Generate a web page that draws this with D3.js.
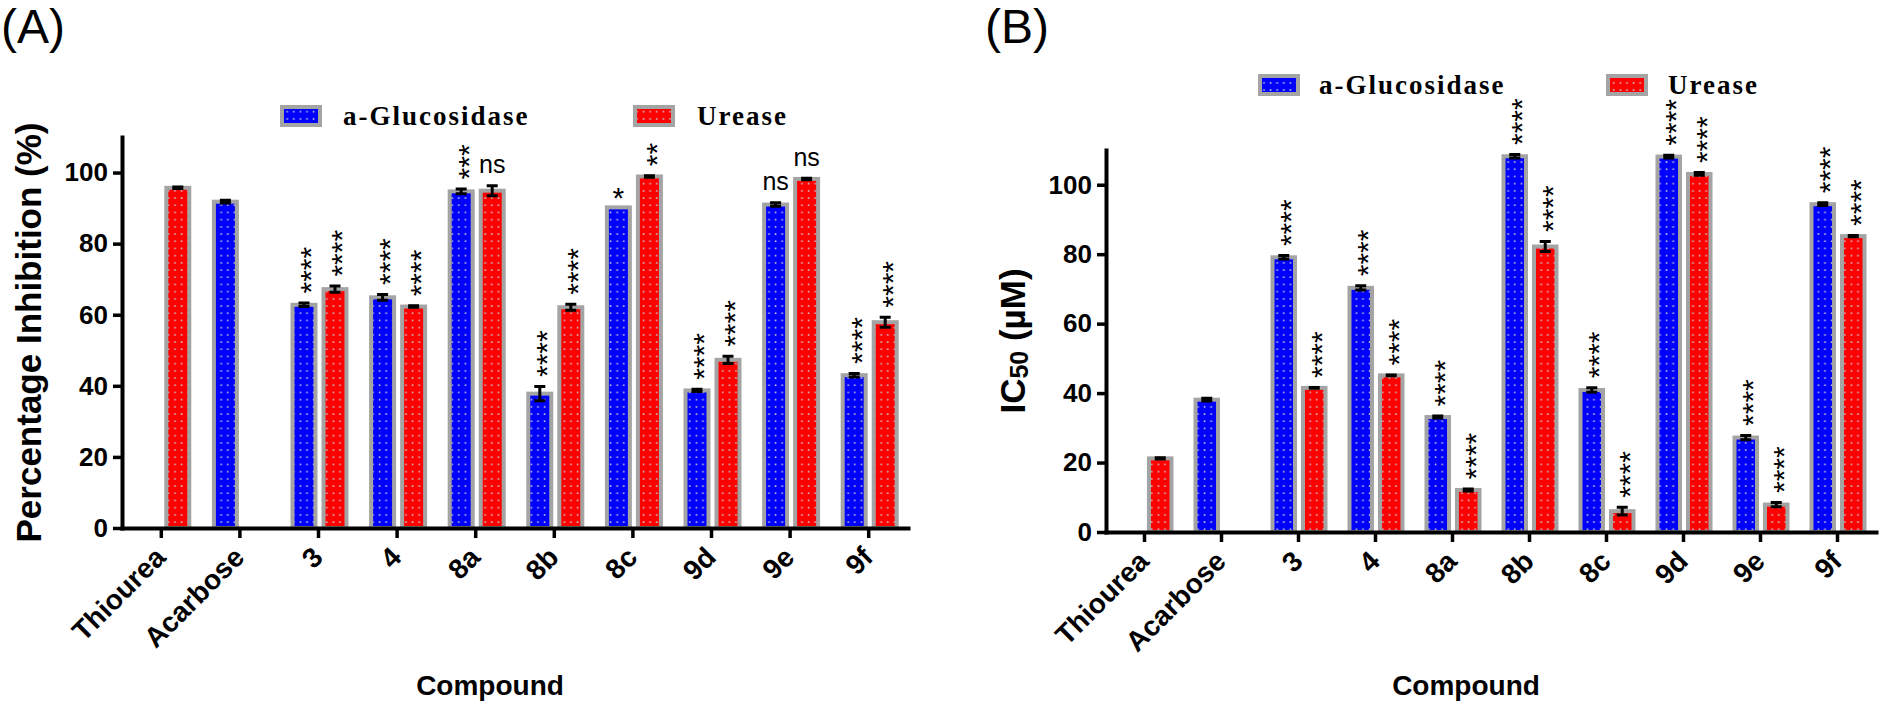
<!DOCTYPE html>
<html>
<head>
<meta charset="utf-8">
<script src="https://cdn.jsdelivr.net/npm/d3@7"></script>
<style>
    body { margin: 0; background: #fff; }
    svg { display: block; }
</style>
</head>
<body>
<script>
// Compounds on the x axis (same for both panels)
const compounds = ["Thiourea", "Acarbose", "3", "4", "8a", "8b", "8c", "9d", "9e", "9f"];
const seriesNames = ["a-Glucosidase", "Urease"];
const yTicks = [0, 20, 40, 60, 80, 100];

// Panel A: percentage inhibition (%)
const inhibGlucosidase = [null, 91.8, 62.8, 64.9, 94.7, 37.8, 90.2, 38.7, 91.0, 43.0];
const inhibGlucosidaseErr = [null, 0.4, 0.5, 0.8, 0.7, 2.0, 0, 0.3, 0.5, 0.5];
const inhibUrease = [95.7, null, 67.2, 62.3, 94.9, 62.1, 98.9, 47.3, 98.2, 57.9];
const inhibUreaseErr = [0.2, null, 0.85, 0.2, 1.4, 0.85, 0.2, 1.0, 0.2, 1.4];
const inhibGlucosidaseSig = ["", "", "****", "****", "***", "****", "*", "****", "ns", "****"];
const inhibUreaseSig = ["", "", "****", "****", "ns", "****", "**", "****", "ns", "****"];

// Panel B: IC50 (µM)
const icGlucosidase = [null, 38.1, 79.1, 70.3, 33.1, 108.2, 40.9, 108.1, 27.2, 94.4];
const icGlucosidaseErr = [null, 0.4, 0.5, 0.6, 0.3, 0.5, 0.65, 0.4, 0.6, 0.4];
const icUrease = [21.2, null, 41.5, 45.1, 12.1, 82.2, 6.0, 103.1, 7.9, 85.2];
const icUreaseErr = [0.2, null, 0.1, 0.1, 0.3, 1.45, 1.1, 0.4, 0.6, 0.2];
const icGlucosidaseSig = ["", "", "****", "****", "****", "****", "****", "****", "****", "****"];
const icUreaseSig = ["", "", "****", "****", "****", "****", "****", "****", "****", "****"];

const width = 1879;
const height = 702;
const sans = "'Liberation Sans', Arial, sans-serif";
const serif = "'Liberation Serif', 'Times New Roman', serif";
const fills = ["url(#dots-blue)", "url(#dots-red)"];

// Layout of each panel
const panels = [
    {
        tag: "(A)", tagX: 1,
        left: 122, right: 908, top: 137, bottom: 528,
        sub: [-28, 30],
        title: "Percentage Inhibition (%)",
        legendX: [280, 343, 633, 697], legendY: 105,
        values: [inhibGlucosidase, inhibUrease],
        errors: [inhibGlucosidaseErr, inhibUreaseErr],
        sigs: [inhibGlucosidaseSig, inhibUreaseSig]
    },
    {
        tag: "(B)", tagX: 985,
        left: 1106, right: 1876, top: 150, bottom: 532,
        sub: [-28, 29],
        title: null,
        legendX: [1258, 1319, 1606, 1668], legendY: 74,
        values: [icGlucosidase, icUrease],
        errors: [icGlucosidaseErr, icUreaseErr],
        sigs: [icGlucosidaseSig, icUreaseSig]
    }
];

const svg = d3.select("body").append("svg")
    .attr("width", width)
    .attr("height", height)
    .attr("viewBox", [0, 0, width, height]);

svg.append("rect").attr("width", width).attr("height", height).attr("fill", "#fff");

// dotted bar fills
const defs = svg.append("defs");
[["dots-blue", "#0000ff"], ["dots-red", "#ff0000"]].forEach(([id, c]) => {
    const p = defs.append("pattern")
        .attr("id", id)
        .attr("patternUnits", "userSpaceOnUse")
        .attr("width", 6.6)
        .attr("height", 7.2);
    p.append("rect").attr("width", 6.6).attr("height", 7.2).attr("fill", c);
    p.append("rect").attr("x", 2.6).attr("y", 2.9).attr("width", 1.6).attr("height", 1.6)
        .attr("fill", "#c4c4cc");
});

function drawPanel(cfg) {
    const g = svg.append("g");

    const x = d3.scaleBand().domain(compounds).range([cfg.left, cfg.right]);
    const xSub = d3.scaleBand().domain([0, 1]).range(cfg.sub).paddingInner(0.13);
    const y = d3.scaleLinear().domain([0, 110]).range([cfg.bottom, cfg.top]);

    const rows = [];
    cfg.values.forEach((vals, s) => vals.forEach((v, i) => {
        if (v == null) return;
        rows.push({
            s, name: compounds[i], value: v,
            err: cfg.errors[s][i], sig: cfg.sigs[s][i],
            cx: x(compounds[i]) + x.bandwidth() / 2 + xSub(s) + xSub.bandwidth() / 2
        });
    }));

    // bars
    g.append("g")
        .selectAll("rect")
        .data(rows)
        .join("rect")
        .attr("x", d => d.cx - xSub.bandwidth() / 2 + 2)
        .attr("width", xSub.bandwidth() - 4)
        .attr("y", d => y(d.value))
        .attr("height", d => y(0) - y(d.value))
        .attr("fill", d => fills[d.s])
        .attr("stroke", "#a4a4a4")
        .attr("stroke-width", 4);

    // error bars
    g.append("g")
        .attr("stroke", "#000")
        .attr("stroke-width", 3)
        .selectAll("path")
        .data(rows.filter(d => d.err > 0))
        .join("path")
        .attr("d", d => {
            const hi = y(d.value + d.err), lo = y(d.value - d.err);
            return `M${d.cx - 5.5},${hi}H${d.cx + 5.5}M${d.cx},${hi}V${lo}M${d.cx - 5.5},${lo}H${d.cx + 5.5}`;
        });

    // significance marks
    const top = d => d.err > 0 ? y(d.value + d.err) - 1.5 : y(d.value) - 2;
    g.append("g")
        .style("font-family", sans)
        .selectAll("text")
        .data(rows.filter(d => d.sig))
        .join("text")
        .each(function (d) {
            const t = d3.select(this).text(d.sig);
            if (d.sig === "ns") {
                t.attr("x", d.cx).attr("y", top(d) - 11)
                    .attr("text-anchor", "middle").attr("font-size", 25);
            } else if (d.sig === "*") {
                t.attr("x", d.cx).attr("y", top(d) + 3)
                    .attr("text-anchor", "middle").attr("font-size", 30);
            } else {
                t.attr("transform", `translate(${d.cx},${top(d) - 8}) rotate(-90)`)
                    .attr("dy", "0.58em").attr("font-size", 30);
            }
        });

    // axes
    const yAxis = g.append("g")
        .attr("transform", `translate(${cfg.left},0)`)
        .call(d3.axisLeft(y).tickValues(yTicks).tickSize(9).tickSizeOuter(0).tickPadding(5));
    const xAxis = g.append("g")
        .attr("transform", `translate(0,${cfg.bottom})`)
        .call(d3.axisBottom(x).tickSize(10).tickSizeOuter(0).tickFormat(""));

    [yAxis, xAxis].forEach(a => {
        a.select(".domain").attr("stroke-width", 4).attr("stroke-linecap", "square");
        a.selectAll(".tick line").attr("stroke-width", 3.5);
    });
    yAxis.selectAll("text")
        .attr("font-family", sans)
        .attr("font-weight", "bold")
        .attr("font-size", 26)
        .attr("fill", "#000");

    // rotated compound names
    g.append("g")
        .attr("font-family", sans)
        .attr("font-weight", "bold")
        .attr("font-size", 28)
        .attr("text-anchor", "end")
        .selectAll("text")
        .data(compounds)
        .join("text")
        .attr("transform", d => `translate(${x(d) + x.bandwidth() / 2 + 6},${cfg.bottom + 31}) rotate(-45)`)
        .text(d => d);

    // axis titles
    const mid = (cfg.left + cfg.right) / 2;
    g.append("text")
        .attr("x", mid - 25)
        .attr("y", 695)
        .attr("text-anchor", "middle")
        .attr("font-family", sans)
        .attr("font-weight", "bold")
        .attr("font-size", 28)
        .text("Compound");

    const yt = g.append("text")
        .attr("transform", `translate(${cfg.left - 81},${(cfg.top + cfg.bottom) / 2}) rotate(-90)`)
        .attr("text-anchor", "middle")
        .attr("font-family", sans)
        .attr("font-weight", "bold")
        .attr("font-size", 35);
    if (cfg.title) {
        yt.text(cfg.title);
    } else {
        yt.append("tspan").text("IC");
        yt.append("tspan").attr("font-size", 25).attr("dy", 3).text("50");
        yt.append("tspan").attr("dy", -3).text(" (µM)");
    }

    // panel tag
    g.append("text")
        .attr("x", cfg.tagX)
        .attr("y", 43)
        .attr("font-family", sans)
        .attr("font-size", 48)
        .text(cfg.tag);

    // legend
    const lg = g.append("g");
    seriesNames.forEach((name, s) => {
        lg.append("rect")
            .attr("x", cfg.legendX[s * 2] + 2)
            .attr("y", cfg.legendY + 2)
            .attr("width", 38)
            .attr("height", 18)
            .attr("fill", fills[s])
            .attr("stroke", "#a4a4a4")
            .attr("stroke-width", 4);
        lg.append("text")
            .attr("x", cfg.legendX[s * 2 + 1])
            .attr("y", cfg.legendY + 20)
            .attr("font-family", serif)
            .attr("font-weight", "bold")
            .attr("font-size", 27)
            .attr("letter-spacing", 2)
            .text(name);
    });
}

panels.forEach(drawPanel);
</script>
</body>
</html>
